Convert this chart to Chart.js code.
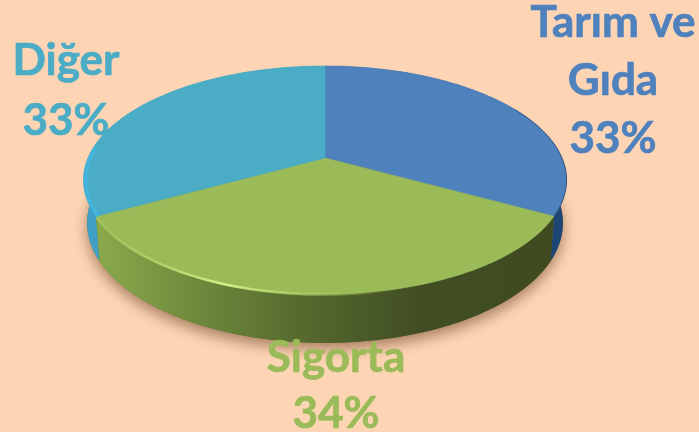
<!DOCTYPE html>
<html>
<head>
<meta charset="utf-8">
<style>
  html, body { margin: 0; padding: 0; background: #fdd5b5; overflow: hidden; }
  canvas { display: block; }
</style>
<script src="https://cdn.jsdelivr.net/npm/chart.js@4"></script>
</head>
<body>
<canvas id="pie" width="699" height="432"></canvas>
<script>
const categories = ['Tarım ve Gıda', 'Sigorta', 'Diğer'];
const values = [33, 34, 33];
const sliceColors = ['#4f81bd', '#9bbb59', '#4bacc6'];
const labelLines = [['Tarım ve', 'Gıda'], ['Sigorta'], ['Diğer']];

// perspective tilt of the pie, numbers fitted against the picture
const K = -0.193;
const SCALE_X = 1.5;
const SCALE_Y = 0.695;

// circle angle -> screen point, the far side of the disc shrinks
function project(arc, angle, sx, sy, drop) {
  const u = Math.cos(angle), v = Math.sin(angle);
  const w = 1 + K * v;
  return {
    x: arc.x + arc.outerRadius * SCALE_X * sx * u / w,
    y: arc.y + drop + arc.outerRadius * SCALE_Y * sy * v / w
  };
}

function tracePoints(ctx, arc, from, to, sx, sy, drop, moveFirst) {
  const steps = 90;
  for (let i = 0; i <= steps; i++) {
    const p = project(arc, from + (to - from) * i / steps, sx, sy, drop);
    if (i === 0 && moveFirst) ctx.moveTo(p.x, p.y);
    else ctx.lineTo(p.x, p.y);
  }
}

function wallFill(ctx, index) {
  if (index === 1) {
    const g = ctx.createLinearGradient(100, 0, 555, 0);
    g.addColorStop(0, '#8aa84b');
    g.addColorStop(0.2, '#708b3d');
    g.addColorStop(0.45, '#55692d');
    g.addColorStop(0.7, '#414e23');
    g.addColorStop(1, '#404a21');
    return g;
  }
  return index === 0 ? '#1d4674' : '#3f9fc6';
}

const wallDrop = 42, wallX = 0.985, wallY = 1.05;

const pie3d = {
  id: 'pie3d',
  beforeDatasetDraw(chart) {
    const ctx = chart.ctx;
    const arcs = chart.getDatasetMeta(0).data;

    // soft shadow under the whole disc
    ctx.save();
    ctx.shadowColor = 'rgba(110, 70, 40, 0.6)';
    ctx.shadowBlur = 14;
    ctx.shadowOffsetY = 6;
    ctx.fillStyle = '#5a6a30';
    ctx.beginPath();
    tracePoints(ctx, arcs[0], 0, Math.PI * 2, wallX, wallY, wallDrop, true);
    ctx.closePath();
    ctx.fill();
    ctx.restore();

    // side walls, green last since it sits in front
    [0, 2, 1].forEach(i => {
      const a = arcs[i];
      ctx.beginPath();
      tracePoints(ctx, a, a.startAngle, a.endAngle, 1, 1, 0, true);
      tracePoints(ctx, a, a.endAngle, a.startAngle, wallX, wallY, wallDrop, false);
      ctx.closePath();
      ctx.fillStyle = wallFill(ctx, i);
      ctx.fill();
    });

    // top faces
    arcs.forEach((a, i) => {
      ctx.beginPath();
      ctx.moveTo(a.x, a.y);
      tracePoints(ctx, a, a.startAngle, a.endAngle, 1, 1, 0, false);
      ctx.closePath();
      ctx.fillStyle = sliceColors[i];
      ctx.fill();
      ctx.strokeStyle = sliceColors[i];
      ctx.lineWidth = 0.6;
      ctx.stroke();
    });

    // bright bevel along the green front rim
    const g = arcs[1];
    const shine = ctx.createLinearGradient(100, 0, 400, 0);
    shine.addColorStop(0, 'rgba(190, 220, 110, 0.4)');
    shine.addColorStop(0.42, 'rgba(210, 240, 130, 1)');
    shine.addColorStop(1, 'rgba(190, 220, 110, 0)');
    ctx.beginPath();
    tracePoints(ctx, g, g.startAngle, g.endAngle, 1, 1, 0.5, true);
    ctx.strokeStyle = shine;
    ctx.lineWidth = 2.5;
    ctx.stroke();

    // lighter bevel on the left of the cyan slice
    const c = arcs[2];
    ctx.beginPath();
    tracePoints(ctx, c, c.startAngle, Math.PI + 0.1, 0.99, 1, 0, true);
    ctx.strokeStyle = '#45b4dc';
    ctx.lineWidth = 4;
    ctx.stroke();

    // thin dark edge on the right of the blue slice
    const b = arcs[0];
    ctx.beginPath();
    tracePoints(ctx, b, -0.5, b.endAngle, 1, 1, 0, true);
    ctx.strokeStyle = 'rgba(30, 50, 90, 0.55)';
    ctx.lineWidth = 1;
    ctx.stroke();

    return false;
  },
  afterDraw(chart) {
    const ctx = chart.ctx;
    const total = values.reduce((s, v) => s + v, 0);
    const anchors = [
      { x: 613, y: 37, lead: 58 },
      { x: 336, y: 372, lead: 56 },
      { x: 66, y: 75, lead: 60 }
    ];
    ctx.save();
    ctx.font = 'bold 44px Lato, "Open Sans", sans-serif';
    ctx.textAlign = 'center';
    ctx.textBaseline = 'alphabetic';
    ctx.lineWidth = 0.7;
    categories.forEach((name, i) => {
      const lines = labelLines[i].concat(Math.round(values[i] / total * 100) + '%');
      ctx.fillStyle = sliceColors[i];
      ctx.strokeStyle = sliceColors[i];
      lines.forEach((line, n) => {
        ctx.fillText(line, anchors[i].x, anchors[i].y + n * anchors[i].lead);
        ctx.strokeText(line, anchors[i].x, anchors[i].y + n * anchors[i].lead);
      });
    });
    ctx.restore();
  }
};

new Chart(document.getElementById('pie'), {
  type: 'pie',
  data: {
    labels: categories,
    datasets: [{ data: values, backgroundColor: sliceColors, borderWidth: 0 }]
  },
  options: {
    responsive: false,
    animation: false,
    layout: { padding: { left: 0, right: 49, top: 0, bottom: 116 } },
    plugins: { legend: { display: false }, tooltip: { enabled: false } }
  },
  plugins: [pie3d]
});
</script>
</body>
</html>
